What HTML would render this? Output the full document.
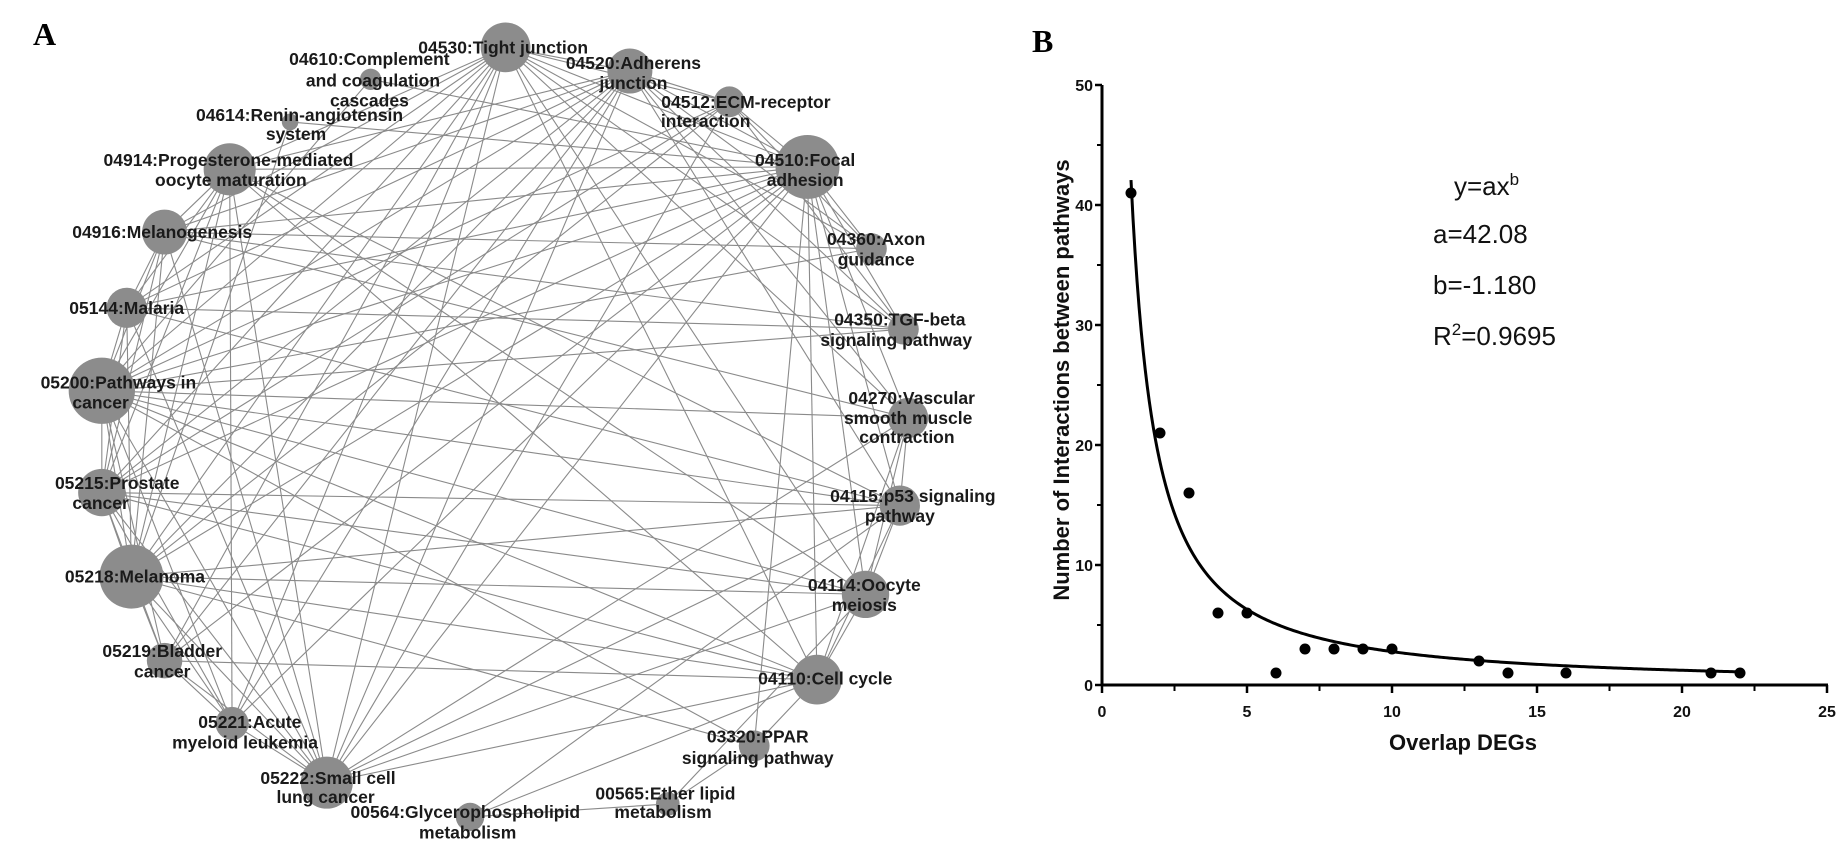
<!DOCTYPE html>
<html><head><meta charset="utf-8"><style>
html,body{margin:0;padding:0;background:#fff;}
svg{display:block;font-family:"Liberation Sans",Arial,sans-serif;}
</style></head><body>
<svg id="fig" width="1847" height="852" viewBox="0 0 1847 852" xmlns="http://www.w3.org/2000/svg">
<text x="33" y="45" font-family="Liberation Serif,serif" font-weight="bold" font-size="32">A</text>
<text x="1032" y="52" font-family="Liberation Serif,serif" font-weight="bold" font-size="32">B</text>
<g id="net"></g>
<g id="chart"></g>
</svg>
<script>
// ---------- Panel B data ----------
const xVals = [1,2,3,4,5,6,7,8,9,10,13,14,16,21,22];
const yVals = [41,21,16,6,6,1,3,3,3,3,2,1,1,1,1];
const xTicks = [0,5,10,15,20,25];
const yTicks = [0,10,20,30,40,50];
const fitA = 42.08, fitB = -1.18;

const NS = "http://www.w3.org/2000/svg";
function mk(tag, attrs, parent){const e=document.createElementNS(NS,tag);for(const k in attrs)e.setAttribute(k,attrs[k]);parent.appendChild(e);return e;}

// ---------- Panel A network ----------
const K = 1.184;
const nodeNames = ["tight-junction","complement","adherens","ecm-receptor","renin","progesterone","focal-adhesion","melanogenesis","axon-guidance","malaria","tgf-beta","pathways-in-cancer","vascular-smooth-muscle","prostate-cancer","p53","melanoma","oocyte-meiosis","bladder-cancer","cell-cycle","acute-myeloid-leukemia","ppar","small-cell-lung-cancer","ether-lipid","glycerophospholipid"];
const nodePos = [[427,40,21],[313,67,9],[532,60,19],[616,86,13],[245,103,7],[194,143,22],[682,141,27],[139,196,19],[736,210,13],[107,260,17],[763,278,13],[86,330,28],[767,353,17],[86,416,20],[760,427,17],[111,487,27],[731,502,20],[139,558,15],[690,574,21],[196,611,14],[637,630,13],[276,661,22],[564,679,10],[397,690,12]];
const nodeLabels = [
 [["04530:Tight junction",425,40]],
 [["04610:Complement",312,50],["and coagulation",315,68],["cascades",312,85]],
 [["04520:Adherens",535,53],["junction",535,70]],
 [["04512:ECM-receptor",630,86],["interaction",596,102]],
 [["04614:Renin-angiotensin",253,97],["system",250,113]],
 [["04914:Progesterone-mediated",193,135],["oocyte maturation",195,152]],
 [["04510:Focal",680,135],["adhesion",680,152]],
 [["04916:Melanogenesis",137,196]],
 [["04360:Axon",740,202],["guidance",740,219]],
 [["05144:Malaria",107,260]],
 [["04350:TGF-beta",760,270],["signaling pathway",757,287]],
 [["05200:Pathways in",100,323],["cancer",85,340]],
 [["04270:Vascular",770,336],["smooth muscle",767,353],["contraction",766,369]],
 [["05215:Prostate",99,408],["cancer",85,425]],
 [["04115:p53 signaling",771,419],["pathway",760,436]],
 [["05218:Melanoma",114,487]],
 [["04114:Oocyte",730,494],["meiosis",730,511]],
 [["05219:Bladder",137,550],["cancer",137,567]],
 [["04110:Cell cycle",697,573]],
 [["05221:Acute",211,610],["myeloid leukemia",207,627]],
 [["03320:PPAR",640,622],["signaling pathway",640,640]],
 [["05222:Small cell",277,657],["lung cancer",275,673]],
 [["00565:Ether lipid",562,670],["metabolism",560,686]],
 [["00564:Glycerophospholipid",393,686],["metabolism",395,703]]
];
const edgeList = {
 0:[2,3,6,8,5,7,9,11,13,15,17,19,21,12,16,18,10],
 2:[3,6,8,10,5,7,9,11,13,15,17,19,21,12,14],
 3:[6,8,11,13,15,21,10],
 6:[8,10,12,14,16,18,5,7,9,11,13,15,17,19,21,20,4],
 5:[7,9,11,13,15,16,18,14,21,19],
 7:[9,11,13,15,12,8,10,21],
 9:[11,13,15,10,14,21],
 11:[13,15,17,19,21,14,16,18,12,8,10,20],
 13:[15,17,19,21,14,16,18],
 15:[17,19,21,16,18,14,20],
 17:[19,21,18],
 19:[21],
 21:[18,16,14,12],
 18:[16,14,12,23,20],
 16:[14,12,22],
 14:[12,23],
 1:[6,11],
 4:[15],
 22:[23,20]
};
const net = document.getElementById('net');
const eg = mk('g',{},net);


for (const a in edgeList){
  for (const b of edgeList[a]){
    const p=nodePos[a], q=nodePos[b];
    const l = mk('line',{x1:p[0]*K,y1:p[1]*K,x2:q[0]*K,y2:q[1]*K,stroke:'#8a8a8a','stroke-width':1.1},eg);
    
    
  }
}
nodePos.forEach((p,i)=>{
  const c = mk('circle',{cx:p[0]*K,cy:p[1]*K,r:p[2]*K,fill:'#8c8c8c'},net);
  
  
});
nodeLabels.forEach((lines,i)=>{
  lines.forEach(L=>{
    const t = mk('text',{x:L[1]*K,y:L[2]*K+6,'text-anchor':'middle','font-size':17.5,'font-weight':'bold',fill:'#1a1a1a'},net);
    t.textContent = L[0];
    
    
  });
});

// ---------- Panel B chart ----------
const chart = document.getElementById('chart');
const X0=1102, X1=1827, Y0=685, Y1=85;
const xs = v => X0 + (v-0)/(25-0)*(X1-X0);
const ys = v => Y0 - (v-0)/(50-0)*(Y0-Y1);

// fitted curve
let d='';
for (let i=0;i<=300;i++){
  const x = 1 + i*(22-1)/300;
  const y = fitA*Math.pow(x,fitB);
  d += (i?'L':'M')+xs(x).toFixed(2)+','+ys(y).toFixed(2);
}
const curve = mk('path',{d:d,fill:'none',stroke:'#000','stroke-width':3},chart);



// axes
const xa = mk('line',{x1:X0,y1:Y0,x2:X1+1,y2:Y0,stroke:'#000','stroke-width':3},chart);


const ya = mk('line',{x1:X0,y1:Y0+1,x2:X0,y2:Y1,stroke:'#000','stroke-width':3},chart);



xTicks.forEach((v,i)=>{
  const tk = mk('line',{x1:xs(v),y1:Y0,x2:xs(v),y2:Y0+8,stroke:'#000','stroke-width':2.5},chart);
  
  
  if (i<xTicks.length-1){
    const m=(v+xTicks[i+1])/2;
    const mt = mk('line',{x1:xs(m),y1:Y0,x2:xs(m),y2:Y0+6,stroke:'#000','stroke-width':2},chart);
    
    
  }
  const t = mk('text',{x:xs(v),y:Y0+32,'text-anchor':'middle','font-size':16,'font-weight':'bold',fill:'#111'},chart);
  t.textContent = v;
  
  
});
yTicks.forEach((v,i)=>{
  const tk = mk('line',{x1:X0-7,y1:ys(v),x2:X0,y2:ys(v),stroke:'#000','stroke-width':2.5},chart);
  
  
  if (i<yTicks.length-1){
    const m=(v+yTicks[i+1])/2;
    const mt = mk('line',{x1:X0-5,y1:ys(m),x2:X0,y2:ys(m),stroke:'#000','stroke-width':2},chart);
    
    
  }
  const t = mk('text',{x:X0-9,y:ys(v)+6,'text-anchor':'end','font-size':16,'font-weight':'bold',fill:'#111'},chart);
  t.textContent = v;
  
  
});

// points
xVals.forEach((x,i)=>{
  const c = mk('circle',{cx:xs(x),cy:ys(yVals[i]),r:5.5,fill:'#000'},chart);
  
  
});

// axis titles
const xt = mk('text',{x:1463,y:750,'text-anchor':'middle','font-size':22,'font-weight':'bold',fill:'#111'},chart);
xt.textContent='Overlap DEGs';


const yt = mk('text',{x:0,y:0,'text-anchor':'middle','font-size':22,'font-weight':'bold',fill:'#111',transform:'translate(1069,380) rotate(-90)'},chart);
yt.textContent='Number of Interactions between pathways';



// equation
const eq = mk('text',{x:1454,y:195,'font-size':26,fill:'#111'},chart);


eq.innerHTML='y=ax<tspan dy="-10" font-size="17">b</tspan>';
const pa = mk('text',{x:1433,y:243,'font-size':26,fill:'#111'},chart);
pa.textContent='a=42.08';


const pb = mk('text',{x:1433,y:294,'font-size':26,fill:'#111'},chart);
pb.textContent='b=-1.180';


const pr = mk('text',{x:1433,y:345,'font-size':26,fill:'#111'},chart);
pr.innerHTML='R<tspan dy="-10" font-size="17">2</tspan><tspan dy="10">=0.9695</tspan>';


</script>
</body></html>
